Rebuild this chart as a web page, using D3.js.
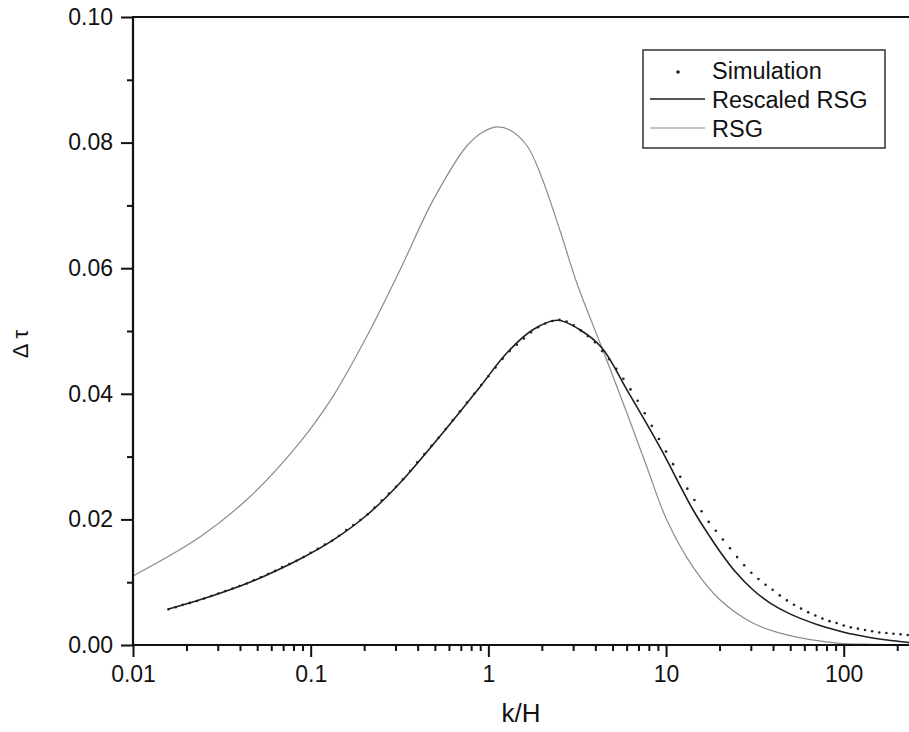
<!DOCTYPE html>
<html>
<head>
<meta charset="utf-8">
<script src="https://cdn.jsdelivr.net/npm/d3@7"></script>
<style>
  body { margin: 0; background: #fff; }
  svg { display: block; font-family: "Liberation Sans", Arial, sans-serif; }
</style>
</head>
<body>
<svg width="909" height="732"></svg>
<script>
// RSG (light grey)
const rsgK = [0.01, 0.0238, 0.0455, 0.0871, 0.1335, 0.2075, 0.318, 0.488, 0.758, 0.933, 1.117, 1.32, 1.65, 1.95, 2.53, 3.15, 4.36, 6.03, 7.81, 10.1, 14.2, 20.1, 30.8, 47.9, 91.6, 150, 233];
const rsgTau = [0.0110, 0.0172, 0.0236, 0.0323, 0.0396, 0.0492, 0.0597, 0.0708, 0.0795, 0.0817, 0.0825, 0.0820, 0.0795, 0.0752, 0.0660, 0.0576, 0.0473, 0.0369, 0.0283, 0.0199, 0.0124, 0.0072, 0.0035, 0.0016, 0.0003, 0.0001, 0.0000];

// Rescaled RSG (dark)
const rescaledK = [0.0157, 0.0238, 0.0455, 0.0871, 0.1335, 0.2075, 0.318, 0.585, 0.897, 1.27, 1.78, 2.45, 3.27, 4.36, 6.03, 9.24, 14.2, 17.7, 20.1, 24.5, 30.8, 38.0, 47.9, 60.0, 73.5, 90.0, 113, 140, 175, 233];
const rescaledTau = [0.0057, 0.0072, 0.0100, 0.0137, 0.0167, 0.0207, 0.0258, 0.0346, 0.0411, 0.0465, 0.0502, 0.0517, 0.0502, 0.0473, 0.0406, 0.0315, 0.0215, 0.0172, 0.0149, 0.0117, 0.0088, 0.0068, 0.0052, 0.0040, 0.0031, 0.0024, 0.0017, 0.0012, 0.0008, 0.0004];

// Simulation (dots)
const simK = [
  0.01585, 0.01738, 0.01905, 0.02089, 0.02291, 0.02512, 0.02754, 0.03020, 0.03311, 0.03631,
  0.03981, 0.04365, 0.04786, 0.05248, 0.05754, 0.06310, 0.06918, 0.07586, 0.08318, 0.09120,
  0.1, 0.1096, 0.1202, 0.1318, 0.1445, 0.1585, 0.1738, 0.1905, 0.2089, 0.2291, 0.2512, 0.2754, 0.3020,
  0.3311, 0.3631, 0.3981, 0.4365, 0.4786, 0.5248, 0.5754, 0.6310, 0.6918, 0.7586, 0.8318, 0.9120,
  1, 1.096, 1.202, 1.318, 1.445, 1.585, 1.738, 1.905, 2.089, 2.291, 2.512, 2.754, 3.020,
  3.311, 3.631, 3.981, 4.365, 4.786, 5.248, 5.754, 6.310, 6.918, 7.586, 8.318, 9.120,
  10, 10.96, 12.02, 13.18, 14.45, 15.85, 17.38, 19.05, 20.89, 22.91, 25.12, 27.54, 30.20,
  33.11, 36.31, 39.81, 43.65, 47.86, 52.48, 57.54, 63.10, 69.18, 75.86, 83.18, 91.20,
  100, 109.6, 120.2, 131.8, 144.5, 158.5, 173.8, 190.5, 208.9, 229.1
];
const simTau = [
  0.0057, 0.0060, 0.0064, 0.0067, 0.0070, 0.0074, 0.0078, 0.0082, 0.0086, 0.0090,
  0.0094, 0.0098, 0.0103, 0.0108, 0.0113, 0.0118, 0.0124, 0.0129, 0.0134, 0.0140,
  0.0147, 0.0153, 0.0160, 0.0166, 0.0174, 0.0183, 0.0191, 0.0199, 0.0208, 0.0219, 0.0230, 0.0241, 0.0252,
  0.0264, 0.0277, 0.0291, 0.0304, 0.0317, 0.0330, 0.0344, 0.0358, 0.0372, 0.0386, 0.0400, 0.0414,
  0.0428, 0.0442, 0.0456, 0.0468, 0.0478, 0.0488, 0.0498, 0.0506, 0.0512, 0.0516, 0.0518, 0.0515, 0.0509,
  0.0501, 0.0492, 0.0482, 0.0468, 0.0455, 0.0440, 0.0424, 0.0407, 0.0389, 0.0369, 0.0349, 0.0328,
  0.0308, 0.0288, 0.0268, 0.0249, 0.0231, 0.0213, 0.0196, 0.0182, 0.0168, 0.0154, 0.0140, 0.0127, 0.0115,
  0.0105, 0.0096, 0.0088, 0.0079, 0.0071, 0.0064, 0.0058, 0.0052, 0.0047, 0.0042, 0.0038, 0.0035,
  0.0031, 0.0028, 0.0026, 0.0024, 0.0022, 0.0020, 0.0019, 0.0018, 0.0017, 0.0016
];

const kTicks = [0.01, 0.1, 1, 10, 100];
const kTickLabels = ['0.01', '0.1', '1', '10', '100'];
const tauTicks = [0, 0.02, 0.04, 0.06, 0.08, 0.10];
const tauTickLabels = ['0.00', '0.02', '0.04', '0.06', '0.08', '0.10'];
const tauMinor = [0.01, 0.03, 0.05, 0.07, 0.09];
const legendLabels = ['Simulation', 'Rescaled RSG', 'RSG'];

const svg = d3.select('svg');
const width = +svg.attr('width');

const plotLeft = 133, plotTop = 17, plotBottom = 645;

const xScale = d3.scaleLog()
    .domain([0.01, 233])
    .range([plotLeft, width]);

const yScale = d3.scaleLinear()
    .domain([0, 0.1])
    .range([plotBottom, plotTop]);

const kMinor = [];
kTicks.forEach(t => [2, 3, 4, 5, 6, 7, 8, 9].forEach(m => {
    if (t * m <= 233) kMinor.push(t * m);
}));

// lines
const line = d3.line()
    .x(d => xScale(d[0]))
    .y(d => yScale(d[1]))
    .curve(d3.curveCatmullRom.alpha(0.5));

svg.append('path')
    .datum(rsgK.map((k, i) => [k, rsgTau[i]]))
    .attr('fill', 'none')
    .attr('stroke', '#8c8c8c')
    .attr('stroke-width', 1.2)
    .attr('d', line);

svg.append('path')
    .datum(rescaledK.map((k, i) => [k, rescaledTau[i]]))
    .attr('fill', 'none')
    .attr('stroke', '#1e1e1e')
    .attr('stroke-width', 1.6)
    .attr('d', line);

svg.append('g').selectAll('circle')
    .data(simK.map((k, i) => [k, simTau[i]]))
    .enter().append('circle')
    .attr('cx', d => xScale(d[0]))
    .attr('cy', d => yScale(d[1]))
    .attr('r', 1.3)
    .attr('fill', '#222');

// axes
const xAxis = d3.axisBottom(xScale)
    .tickValues(kTicks)
    .tickFormat((d, i) => kTickLabels[i])
    .tickSize(12)
    .tickPadding(8);

const xAxisG = svg.append('g')
    .attr('transform', `translate(0, ${plotBottom})`)
    .call(xAxis);

xAxisG.select('.domain').remove();

svg.append('g')
    .attr('transform', `translate(0, ${plotBottom})`)
    .call(d3.axisBottom(xScale).tickValues(kMinor).tickFormat('').tickSize(6))
    .select('.domain').remove();

const yAxis = d3.axisLeft(yScale)
    .tickValues(tauTicks)
    .tickFormat((d, i) => tauTickLabels[i])
    .tickSize(12)
    .tickPadding(8);

const yAxisG = svg.append('g')
    .attr('transform', `translate(${plotLeft}, 0)`)
    .call(yAxis);

yAxisG.select('.domain').remove();

svg.append('g')
    .attr('transform', `translate(${plotLeft}, 0)`)
    .call(d3.axisLeft(yScale).tickValues(tauMinor).tickFormat('').tickSize(6))
    .select('.domain').remove();

svg.selectAll('.tick line').attr('stroke', '#111').attr('stroke-width', 2);
svg.selectAll('.tick text')
    .attr('fill', '#111')
    .style('font-size', '23px');

xAxisG.selectAll('.tick text').attr('dy', '0.75em');

// frame lines (left, bottom, top)
svg.append('line')
    .attr('x1', plotLeft).attr('x2', plotLeft)
    .attr('y1', plotTop - 1).attr('y2', plotBottom + 1)
    .attr('stroke', '#111').attr('stroke-width', 2.2);

svg.append('line')
    .attr('x1', plotLeft - 1).attr('x2', width)
    .attr('y1', plotBottom).attr('y2', plotBottom)
    .attr('stroke', '#111').attr('stroke-width', 2.2);

svg.append('line')
    .attr('x1', plotLeft - 1).attr('x2', width)
    .attr('y1', plotTop).attr('y2', plotTop)
    .attr('stroke', '#111').attr('stroke-width', 2.2);

// axis labels
svg.append('text')
    .attr('x', (plotLeft + width) / 2)
    .attr('y', 722)
    .attr('text-anchor', 'middle')
    .attr('fill', '#111')
    .style('font-size', '26px')
    .text('k/H');

svg.append('text')
    .attr('transform', 'translate(28, 344) rotate(-90)')
    .attr('text-anchor', 'middle')
    .attr('fill', '#111')
    .style('font-size', '22px')
    .text('Δ τ');

// legend
const legend = svg.append('g');

legend.append('rect')
    .attr('x', 643).attr('y', 50)
    .attr('width', 242).attr('height', 98)
    .attr('fill', 'none')
    .attr('stroke', '#333')
    .attr('stroke-width', 1.5);

legend.append('circle')
    .attr('cx', 678).attr('cy', 72)
    .attr('r', 1.8)
    .attr('fill', '#222');

legend.append('line')
    .attr('x1', 650).attr('x2', 705)
    .attr('y1', 99).attr('y2', 99)
    .attr('stroke', '#1e1e1e').attr('stroke-width', 1.4);

legend.append('line')
    .attr('x1', 650).attr('x2', 705)
    .attr('y1', 128).attr('y2', 128)
    .attr('stroke', '#8c8c8c').attr('stroke-width', 1.2);

legend.selectAll('text.lab')
    .data(legendLabels)
    .enter().append('text')
    .attr('class', 'lab')
    .attr('x', 712)
    .attr('y', (d, i) => 79 + i * 29)
    .attr('fill', '#111')
    .style('font-size', '23.5px')
    .text(d => d);
</script>
</body>
</html>
